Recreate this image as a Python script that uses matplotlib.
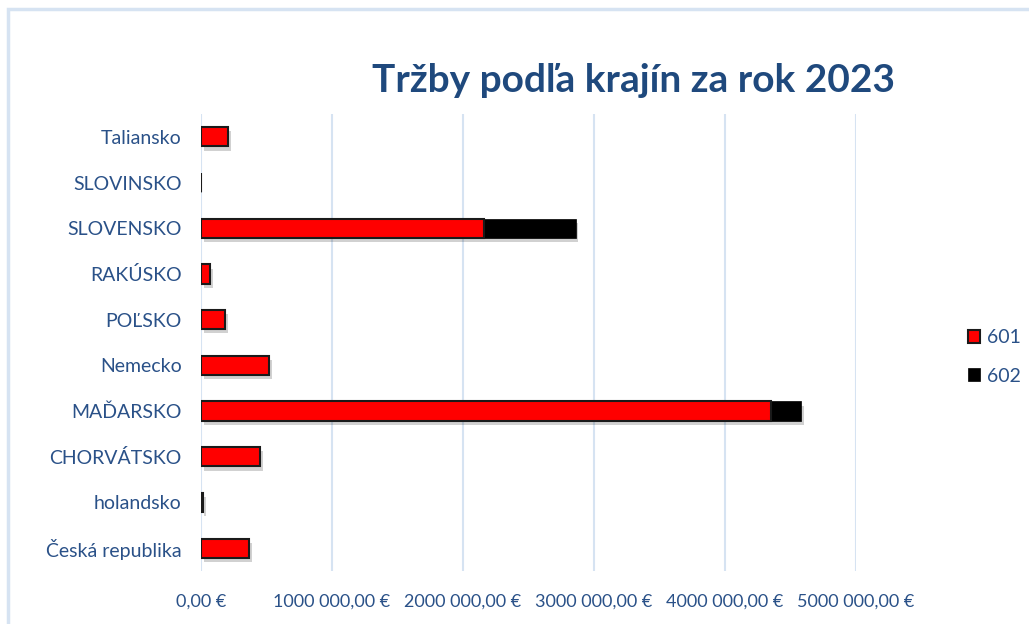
import matplotlib
matplotlib.use("Agg")
import matplotlib.pyplot as plt
import matplotlib.patheffects as pe
from matplotlib.patches import Rectangle

categories = ["Česká republika", "holandsko", "CHORVÁTSKO", "MAĎARSKO", "Nemecko",
              "POĽSKO", "RAKÚSKO", "SLOVENSKO", "SLOVINSKO", "Taliansko"]
s601 = [366000, 15000, 450000, 4350000, 519000, 183000, 69000, 2160000, 3000, 206000]
s602 = [0, 0, 0, 230000, 0, 0, 0, 700000, 0, 0]
xticks = [0, 1000000, 2000000, 3000000, 4000000, 5000000]
xticklabels = ["0,00 €", "1000 000,00 €", "2000 000,00 €", "3000 000,00 €",
               "4000 000,00 €", "5000 000,00 €"]
title = "Tržby podľa krajín za rok 2023"

plt.rcParams['font.family'] = ['Lato', 'DejaVu Sans']
txt = '#2a5188'
grid = '#d6e3f2'

fig = plt.figure(figsize=(10.29, 6.24), dpi=100)
fig.patches.append(Rectangle((8/1029, -0.01), 1.02, 1 - 9/624 + 0.01, transform=fig.transFigure,
                             fill=False, edgecolor=grid, linewidth=2.5))
ax = fig.add_axes([201/1029, 53/624, 655/1029, 457/624])
y = list(range(len(categories)))
shadow = [pe.SimplePatchShadow(offset=(2, -3), shadow_rgbFace='black', alpha=0.18), pe.Normal()]
ax.barh(y, s601, height=0.42, color='#ff0000', edgecolor='#1a1a1a', linewidth=1.5,
        label='601', path_effects=shadow, zorder=3)
ax.barh(y, s602, left=s601, height=0.42, color='#000000', edgecolor='#000000', linewidth=0.5,
        label='602', path_effects=shadow, zorder=2)
ax.set_xlim(0, 5000000)
ax.set_ylim(-0.5, len(categories) - 0.5)
ax.set_xticks(xticks)
ax.set_xticklabels(xticklabels)
ax.set_yticks(y)
ax.set_yticklabels(categories)
for s in ax.spines.values():
    s.set_visible(False)
ax.grid(axis='x', color=grid, linewidth=1.5, zorder=0)
ax.set_axisbelow(True)
ax.tick_params(axis='both', length=0, colors=txt, labelsize=13)
ax.tick_params(axis='y', pad=14, labelsize=14)
ax.tick_params(axis='x', pad=16)
fig.text(634/1029, 1 - 80/624, title, ha='center', va='center', fontsize=28,
         fontweight='bold', color='#1f497d')
leg = fig.legend(loc='center left', bbox_to_anchor=(950/1029, 1 - 357/624), frameon=False,
                 fontsize=14, labelcolor=txt, handlelength=0.65, handleheight=0.65,
                 labelspacing=1.1, handletextpad=0.35)
for h in leg.legend_handles:
    h.set_path_effects([])
fig.savefig("out.png", dpi=100)
